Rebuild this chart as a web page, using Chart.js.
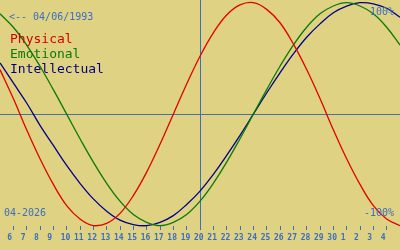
<!DOCTYPE html>
<html>
<head>
<meta charset="utf-8">
<script src="https://cdn.jsdelivr.net/npm/chart.js@4/dist/chart.umd.min.js"></script>
<style>
  html, body { margin: 0; padding: 0; background: #e0d283; }
  #wrap { position: relative; width: 400px; height: 250px; overflow: hidden; }
  .t { position: absolute; font-family: "DejaVu Sans Mono", monospace; white-space: pre; line-height: 1; }
  .small { font-size: 10px; color: #3a6ec0; }
  .big { font-size: 13px; }
</style>
</head>
<body>
<div id="wrap">
  <canvas id="canvas" width="400" height="250"></canvas>
  <div class="t small" style="left:9px; top:11.5px;">&lt;-- 04/06/1993</div>
  <div class="t big" style="left:10px; top:32px; color:#d40000;">Physical</div>
  <div class="t big" style="left:10px; top:47px; color:#0a7a0a;">Emotional</div>
  <div class="t big" style="left:10px; top:62px; color:#000080;">Intellectual</div>
  <div class="t small" style="left:370px; top:7px;">100%</div>
  <div class="t small" style="left:364px; top:207.5px;">-100%</div>
  <div class="t small" style="left:4px; top:207.5px;">04-2026</div>
</div>
<script>
// day of the month (past 30 = May)
var days = [5, 6, 7, 8, 9, 10, 11, 12, 13, 14, 15, 16, 17, 18, 19, 20, 21, 22, 23, 24, 25, 26, 27, 28, 29, 30, 31, 32, 33, 34, 35]
var physical = [40, 14, -14, -40, -63, -82, -94, -100, -98, -89, -73, -52, -27, 0, 27, 52, 73, 89, 98, 100, 94, 82, 63, 40, 14, -14, -40, -63, -82, -94, -100]
var emotional = [90, 78, 62, 43, 22, 0, -22, -43, -62, -78, -90, -97, -100, -97, -90, -78, -62, -43, -22, 0, 22, 43, 62, 78, 90, 97, 100, 97, 90, 78, 62]
var intellectual = [46, 28, 10, -10, -28, -46, -62, -76, -87, -95, -99, -100, -97, -91, -81, -69, -54, -37, -19, 0, 19, 37, 54, 69, 81, 91, 97, 100, 99, 95, 87]
var tickDays = [6, 7, 8, 9, 10, 11, 12, 13, 14, 15, 16, 17, 18, 19, 20, 21, 22, 23, 24, 25, 26, 27, 28, 29, 30, 31, 32, 33, 34]
var tickLabels = ['6', '7', '8', '9', '10', '11', '12', '13', '14', '15', '16', '17', '18', '19', '20', '21', '22', '23', '24', '25', '26', '27', '28', '29', '30', '1', '2', '3', '4']
var today = 20

var blue = '#3a6ec0'

function series(label, values, color) {
  return {
    label: label,
    data: days.map((d, i) => ({x: d, y: values[i]})),
    borderColor: color,
    borderWidth: 1.3,
    pointRadius: 0,
    tension: 0.4,
    clip: false
  }
}

var ctx = document.getElementById('canvas').getContext('2d')
var chart = new Chart(ctx, {
  type: 'line',
  data: {
    datasets: [
      series('Physical', physical, '#e00000'),
      series('Emotional', emotional, '#0a7a0a'),
      series('Intellectual', intellectual, '#000088')
    ]
  },
  options: {
    responsive: false,
    animation: false,
    layout: { padding: 0 },
    plugins: { legend: { display: false }, tooltip: { enabled: false } },
    scales: {
      x: {
        type: 'linear',
        min: 5,
        max: 35,
        afterFit: s => { s.height = 24 },
        afterBuildTicks: s => { s.ticks = tickDays.map(v => ({value: v})) },
        border: { display: false },
        grid: {
          color: c => (c.tick && c.tick.value === today) ? blue : 'rgba(0,0,0,0)',
          tickColor: blue,
          tickLength: 4,
          lineWidth: 1
        },
        ticks: {
          autoSkip: false,
          maxRotation: 0,
          align: 'start',
          labelOffset: -6,
          padding: 3,
          color: blue,
          font: { family: 'DejaVu Sans Mono', size: 8, weight: 'bold' },
          callback: (v) => tickLabels[tickDays.indexOf(v)]
        }
      },
      y: {
        min: -100.3,
        max: 102.4,
        afterFit: s => { s.width = 0 },
        afterBuildTicks: s => { s.ticks = [{value: 0}] },
        border: { display: false },
        grid: { color: '#4670a8', drawTicks: false, lineWidth: 1 },
        ticks: { display: false }
      }
    }
  }
})
</script>
</body>
</html>
